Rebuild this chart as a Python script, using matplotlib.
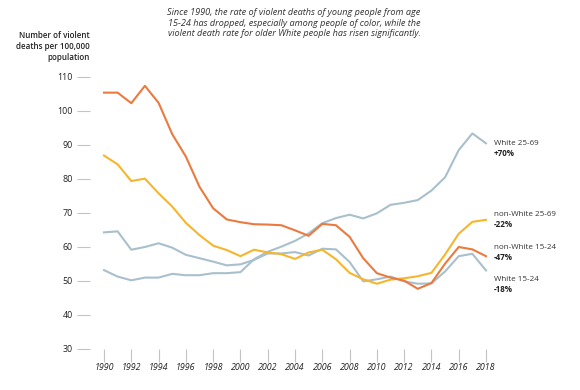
import matplotlib
matplotlib.use('Agg')
import matplotlib.pyplot as plt

plt.rcParams['font.family'] = ['Open Sans', 'DejaVu Sans']

years = list(range(1990, 2019))

white_25_69 = [53.2, 51.3, 50.2, 51.0, 51.0, 52.1, 51.7, 51.7, 52.3, 52.3,
               52.6, 56.4, 58.6, 60.1, 61.8, 64.0, 67.0, 68.5, 69.5, 68.4,
               69.9, 72.4, 73.0, 73.8, 76.6, 80.5, 88.5, 93.4, 90.5]
non_white_25_69 = [86.9, 84.3, 79.4, 80.1, 75.8, 71.9, 67.1, 63.5, 60.4, 59.1,
                   57.3, 59.2, 58.4, 57.9, 56.5, 58.4, 59.2, 56.4, 52.4, 50.5,
                   49.2, 50.4, 50.8, 51.4, 52.4, 57.8, 63.9, 67.4, 68.0]
non_white_15_24 = [105.4, 105.4, 102.3, 107.4, 102.4, 93.2, 86.6, 77.7, 71.4, 68.1,
                   67.3, 66.7, 66.6, 66.4, 64.9, 63.3, 66.8, 66.4, 63.0, 56.7,
                   52.3, 51.0, 50.1, 47.7, 49.4, 55.1, 60.0, 59.3, 57.3]
white_15_24 = [64.3, 64.6, 59.2, 60.0, 61.1, 59.8, 57.7, 56.7, 55.7, 54.6,
               54.9, 56.2, 58.1, 58.1, 58.5, 57.5, 59.5, 59.3, 55.6, 49.9,
               50.5, 51.3, 49.9, 49.2, 49.3, 52.8, 57.3, 58.0, 53.1]

end_labels = ['White 25-69', 'non-White 25-69', 'non-White 15-24', 'White 15-24']
end_changes = ['+70%', '-22%', '-47%', '-18%']
end_label_y = [90.5, 69.7, 59.8, 50.5]

title = ('Since 1990, the rate of violent deaths of young people from age\n'
         '15-24 has dropped, especially among people of color, while the\n'
         'violent death rate for older White people has risen significantly.')
ylabel = 'Number of violent\ndeaths per 100,000\npopulation'

orange = '#EB7A3E'
yellow = '#F6B62C'
gray = '#A9C0CC'
tick_gray = '#C4C4C4'
text_dark = '#222222'

PX = 72 / 100  # points per pixel

fig = plt.figure(figsize=(5.8, 3.9), dpi=100)
ax = fig.add_axes([90 / 580, 41 / 390, 400 / 580, 279 / 390])

ax.plot(years, white_15_24, color=gray, lw=1.5, zorder=2)
ax.plot(years, white_25_69, color=gray, lw=1.5, zorder=2)
ax.plot(years, non_white_25_69, color=yellow, lw=1.5, zorder=3)
ax.plot(years, non_white_15_24, color=orange, lw=1.5, zorder=4)

ax.set_xlim(1990 - 14 / 13.643, 2018 + 4 / 13.643)
ax.set_ylim(30, 110 + 7 / 3.4)

for s in ax.spines.values():
    s.set_visible(False)

ax.set_yticks(range(30, 111, 10))
ax.set_xticks(range(1990, 2019, 2))
ax.set_xticklabels([str(y) for y in range(1990, 2019, 2)], fontstyle='italic')
ax.tick_params(axis='y', length=13 * PX, width=0.8, color=tick_gray, pad=4 * PX,
               labelsize=6.4, labelcolor=text_dark)
ax.tick_params(axis='x', length=13 * PX, width=0.8, color=tick_gray, pad=1 * PX,
               labelsize=6.4, labelcolor=text_dark)

for lab, chg, yv in zip(end_labels, end_changes, end_label_y):
    ax.annotate(lab, xy=(2018, yv), xytext=(8 * PX, 0), textcoords='offset points',
                fontsize=5.8, color='#333333', va='center', ha='left',
                annotation_clip=False)
    ax.annotate(chg, xy=(2018, yv), xytext=(8 * PX, -10 * PX), textcoords='offset points',
                fontsize=5.8, color=text_dark, fontweight='bold', va='center',
                ha='left', annotation_clip=False)

fig.text(294 / 580, 1 - 8 / 390, title, ha='center', va='top', fontsize=6.6,
         fontstyle='italic', color='#333333', linespacing=1.25)
fig.text(90 / 580, 1 - 31 / 390, ylabel, ha='right', va='top', fontsize=5.8,
         fontweight='semibold', color=text_dark, linespacing=1.25)

fig.savefig('out.png', dpi=100)
